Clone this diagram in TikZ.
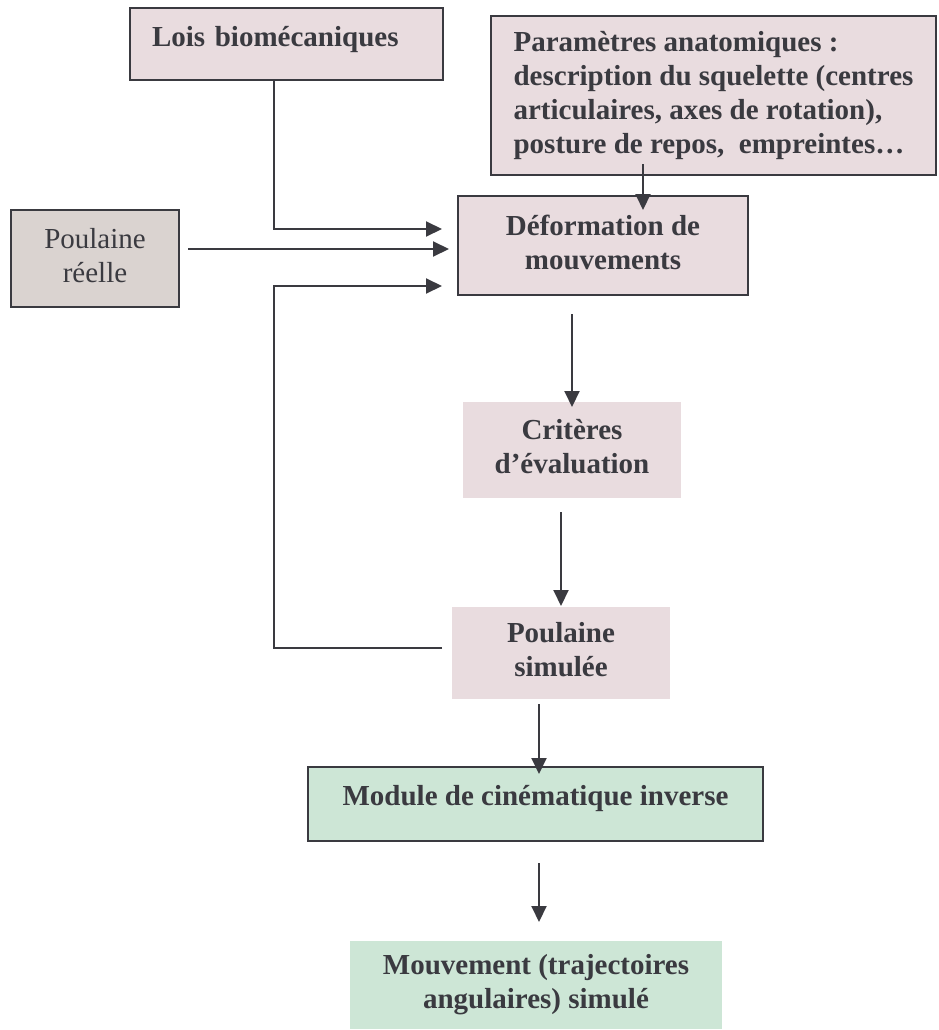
\documentclass[tikz,border=0pt]{standalone}
\usepackage{fontspec}
\setmainfont{Liberation Serif}
\usepackage{tikz}
\usetikzlibrary{arrows.meta,positioning,calc}
\definecolor{boxPink}{HTML}{E9DCDF}
\definecolor{boxGrey}{HTML}{DAD3D0}
\definecolor{boxGreen}{HTML}{CDE6D6}
\definecolor{inkGrey}{HTML}{3A3A40}
\newcommand{\diagfont}{\fontsize{29}{34}\selectfont}

\begin{document}
\begin{tikzpicture}[x=1pt, y=-1pt, line width=2pt,
  font=\diagfont\bfseries, text=inkGrey,
  box/.style={draw=inkGrey, fill=boxPink, inner sep=0pt, align=center},
  flat/.style={fill=boxPink, inner sep=0pt, align=center},
  arr/.style={draw=inkGrey, -{Triangle[length=16pt,width=15pt]}}]
\useasboundingbox (0,0) rectangle (938,1030);
% blocs
\node[box, minimum width=313pt, minimum height=72pt, inner xsep=22pt, text width=269pt, align=left,
  text height=20pt, text depth=14pt] (lois) at (286.5,44) {Lois biomécaniques};
\node[box, minimum width=445pt, minimum height=159pt, align=left] (param) at (713.5,95.5)
  {\strut Paramètres anatomiques :\\ description du squelette (centres\\ articulaires, axes de rotation),\\ posture de repos,\ \ empreintes…\strut};
\node[box, fill=boxGrey, font=\diagfont\mdseries, minimum width=168pt, minimum height=97pt] (preel) at (95,258.5) {\strut Poulaine\\ réelle\strut};
\node[box, minimum width=290pt, minimum height=99pt] (deform) at (603,245.5) {\strut Déformation de\\ mouvements\strut};
\node[flat, minimum width=218pt, minimum height=96pt] (crit) at (572,450) {\strut Critères\\ d’évaluation\strut};
\node[flat, minimum width=218pt, minimum height=92pt] (psim) at (561,653) {\strut Poulaine\\ simulée\strut};
\node[box, fill=boxGreen, minimum width=455pt, minimum height=74pt, text height=20pt, text depth=18pt] (module) at (535.5,804) {Module de cinématique inverse};
\node[flat, fill=boxGreen, minimum width=372pt, minimum height=88pt] (mouv) at (536,985) {\strut Mouvement (trajectoires\\ angulaires) simulé\strut};
% points de passage
\coordinate (col) at (274,0);
\coordinate (pd) at ([xshift=40pt]deform.north);
\coordinate (fbIn) at ([yshift=-40.5pt]deform.west);
\coordinate (pm) at ([xshift=3.5pt]module.north);
% liaisons
\draw[arr, shorten >=15pt] (lois.south -| col) |- ([yshift=16.5pt]deform.west);
\draw[arr, shorten <=8pt, shorten >=8pt] ([yshift=9.5pt]preel.east) -- ([yshift=9.5pt]preel.east -| deform.west);
\draw[arr, shorten <=9pt, shorten >=15pt] ([yshift=5pt]psim.west) -| (col |- fbIn) -- (fbIn);
\draw[arr] ([yshift=12pt]param.south -| pd) -- ([yshift=-15pt]pd);
\draw[arr, shorten <=18pt] (deform.south -| crit.north) -- ([yshift=-6pt]crit.north);
\draw[arr, shorten <=13pt] (crit.south -| psim.north) -- (psim.north);
\draw[arr, shorten <=4pt] (psim.south -| pm) -- ([yshift=-8pt]pm);
\draw[arr, shorten <=21pt, shorten >=18pt] (module.south -| pm) -- (mouv.north -| pm);
\end{tikzpicture}
\end{document}
